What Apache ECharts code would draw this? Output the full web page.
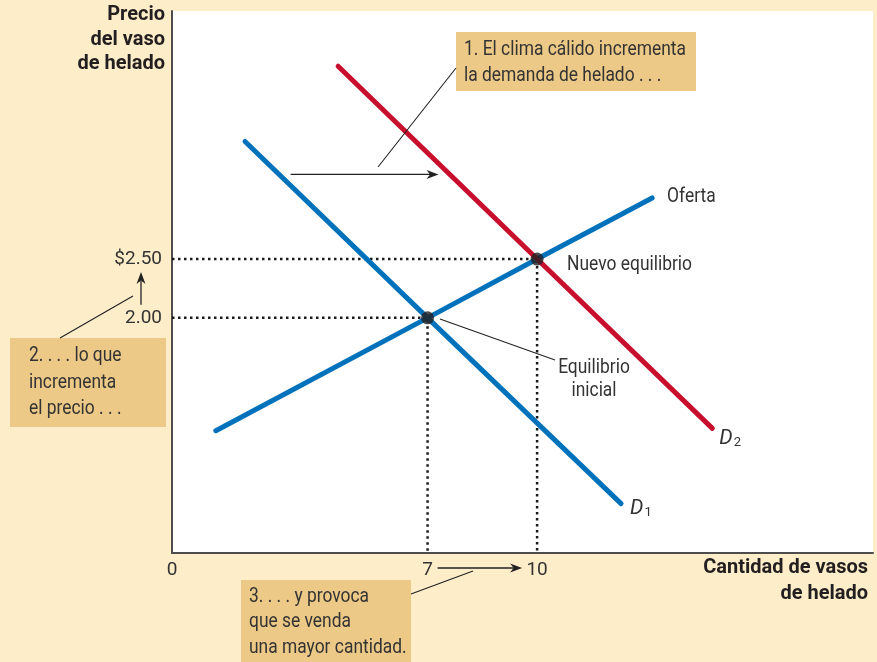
<!DOCTYPE html>
<html>
<head>
<meta charset="utf-8">
<script src="https://cdn.jsdelivr.net/npm/echarts@6/dist/echarts.min.js"></script>
<style>
  html, body { margin: 0; padding: 0; background: #fdedc9; }
  #chart { width: 877px; height: 662px; }
</style>
</head>
<body>
<div id="chart"></div>
<script>
// valores (cantidad, precio)
const supplyQ = [1.2, 7, 10, 13.15]
const supplyP = [1.04, 2.0, 2.5, 3.02]
const demand1Q = [2.0, 7, 12.3]
const demand1P = [3.5, 2.0, 0.42]
const demand2Q = [4.55, 10, 14.8]
const demand2P = [4.14, 2.5, 1.06]
const eqQ = [7, 10]
const eqP = [2.0, 2.5]
const xTicks = [0, 7, 10]
const yTicks = [2.0, 2.5]
const shiftArrow = [[3.25, 3.22], [7.3, 3.22]]

const FONT = 'Roboto, sans-serif'
const TXT = '#333'
const BLUE = '#0072bc'
const RED = '#c8102e'
const BOX = '#edc987'

const zip = (a, b) => a.map((v, i) => [v, b[i]])

const chart = echarts.init(document.getElementById('chart'))

const curve = (name, data, color, label, lab) => ({
  type: 'line',
  name: name,
  data: data,
  symbol: 'none',
  lineStyle: { color: color, width: 5, cap: 'round' },
  z: 3,
  endLabel: Object.assign({
    show: !!label,
    formatter: label,
    color: TXT,
    fontFamily: FONT,
    fontSize: 18,
    rich: {
      d: { fontStyle: 'italic', fontSize: 21, color: TXT, fontFamily: FONT, verticalAlign: 'bottom' },
      s: { fontSize: 13, color: TXT, fontFamily: FONT, verticalAlign: 'bottom', padding: [0, 0, 0, 1] }
    }
  }, lab)
})

const guide = (q, p) => ({
  type: 'line',
  data: [[0, p], [q, p], [q, 0]],
  symbol: 'none',
  silent: true,
  z: 2,
  lineStyle: { color: '#1a1a1a', width: 2.5, type: [2.5, 3.5] }
})

chart.setOption({
  animation: false,
  backgroundColor: '#fdedc9',
  textStyle: { fontFamily: FONT },
  grid: {
    left: 172, right: 4, top: 11, bottom: 109,
    show: true, backgroundColor: '#fff', borderWidth: 0
  },
  xAxis: {
    type: 'value',
    min: 0,
    max: 19.2,
    splitLine: { show: false },
    axisTick: { show: false },
    axisLine: { lineStyle: { color: '#4d4d4d', width: 2 } },
    axisLabel: {
      customValues: xTicks,
      color: TXT, fontSize: 19, fontFamily: FONT, margin: 8
    }
  },
  yAxis: {
    type: 'value',
    min: 0,
    max: 4.61,
    splitLine: { show: false },
    axisTick: { show: false },
    axisLine: { lineStyle: { color: '#4d4d4d', width: 2 } },
    axisLabel: {
      customValues: yTicks,
      color: TXT, fontSize: 19, fontFamily: FONT, margin: 10, padding: [3, 0, 0, 0],
      formatter: v => (v === 2.5 ? '$' : '') + v.toFixed(2)
    }
  },
  series: [
    guide(eqQ[0], eqP[0]),
    guide(eqQ[1], eqP[1]),
    curve('Oferta', zip(supplyQ, supplyP), BLUE, null, {}),
    curve('D1', zip(demand1Q, demand1P), BLUE, '{d|D}{s|1}', { distance: 9, offset: [0, 5] }),
    curve('D2', zip(demand2Q, demand2P), RED, '{d|D}{s|2}', { distance: 7, offset: [0, 10] }),
    {
      type: 'scatter',
      data: zip(eqQ, eqP),
      symbolSize: 13,
      itemStyle: { color: '#231f20' },
      z: 5
    }
  ]
})

// flechas y anotaciones
function arrow(x1, y1, x2, y2) {
  const a = Math.atan2(y2 - y1, x2 - x1)
  const L = 12, W = 4.5, N = 3.5
  const c = Math.cos(a), s = Math.sin(a)
  const bx = x2 - L * c, by = y2 - L * s
  const nx = x2 - (L - N) * c, ny = y2 - (L - N) * s
  return [
    { type: 'line', shape: { x1: x1, y1: y1, x2: nx, y2: ny }, style: { stroke: '#222', lineWidth: 1.3 }, z: 10 },
    {
      type: 'polygon', z: 10,
      shape: { points: [[x2, y2], [bx + W * s, by - W * c], [nx, ny], [bx - W * s, by + W * c]] },
      style: { fill: '#222' }
    }
  ]
}
const leader = (x1, y1, x2, y2) => ({
  type: 'line', z: 10,
  shape: { x1: x1, y1: y1, x2: x2, y2: y2 },
  style: { stroke: '#222', lineWidth: 1.1 }
})
const box = (x, y, w, h) => ({ type: 'rect', z: 8, shape: { x: x, y: y, width: w, height: h }, style: { fill: BOX } })
// texto con escala horizontal para imitar la tipografía estrecha del original
const text = (t, x, y, align, lh, bold, valign) => ({
  type: 'text', z: 11,
  x: x, y: y,
  scaleX: bold ? 1 : 0.87,
  style: {
    text: t, x: 0, y: 0, fill: bold ? '#231f20' : TXT,
    font: (bold ? 'bold ' : '') + '20px ' + FONT,
    textAlign: align, textVerticalAlign: valign || 'top', lineHeight: lh
  }
})

const px = v => chart.convertToPixel({ xAxisIndex: 0, yAxisIndex: 0 }, v)
const s0 = px(shiftArrow[0]), s1 = px(shiftArrow[1])
const p7 = px([eqQ[0], 0]), p10 = px([eqQ[1], 0])
const y200 = px([0, eqP[0]]), y250 = px([0, eqP[1]])
const eq2 = px([eqQ[1], eqP[1]])
const supEnd = px([supplyQ[supplyQ.length - 1], supplyP[supplyP.length - 1]])

chart.setOption({
  graphic: [
    ...arrow(s0[0], s0[1], s1[0], s1[1]),
    ...arrow(p7[0] + 10, p7[1] + 15, p10[0] - 15, p10[1] + 15),
    ...arrow(y200[0] - 31, y200[1] - 13, y250[0] - 31, y250[1] + 13),
    leader(378, 167, 456, 68),
    leader(60, 338, 133, 296),
    leader(411, 594, 473, 571),
    leader(440, 319, 555, 360),
    box(456, 32, 240, 59),
    box(10, 338, 156, 89),
    box(241, 580, 170, 82),
    text('1. El clima cálido incrementa\nla demanda de helado . . .', 464, 37, 'left', 26),
    text('2. . . . lo que\nincrementa\nel precio . . .', 29, 343, 'left', 26.5),
    text('3. . . . y provoca\nque se venda\nuna mayor cantidad.', 249, 584, 'left', 25.5),
    text('Equilibrio\ninicial', 594, 356, 'center', 23),
    text('Nuevo equilibrio', eq2[0] + 30, eq2[1] + 6, 'left', 22, false, 'middle'),
    text('Oferta', supEnd[0] + 15, supEnd[1] - 1, 'left', 22, false, 'middle'),
    text('Precio\ndel vaso\nde helado', 165, 3, 'right', 24.5, true),
    text('Cantidad de vasos\nde helado', 868, 555, 'right', 26, true)
  ]
})
</script>
</body>
</html>
